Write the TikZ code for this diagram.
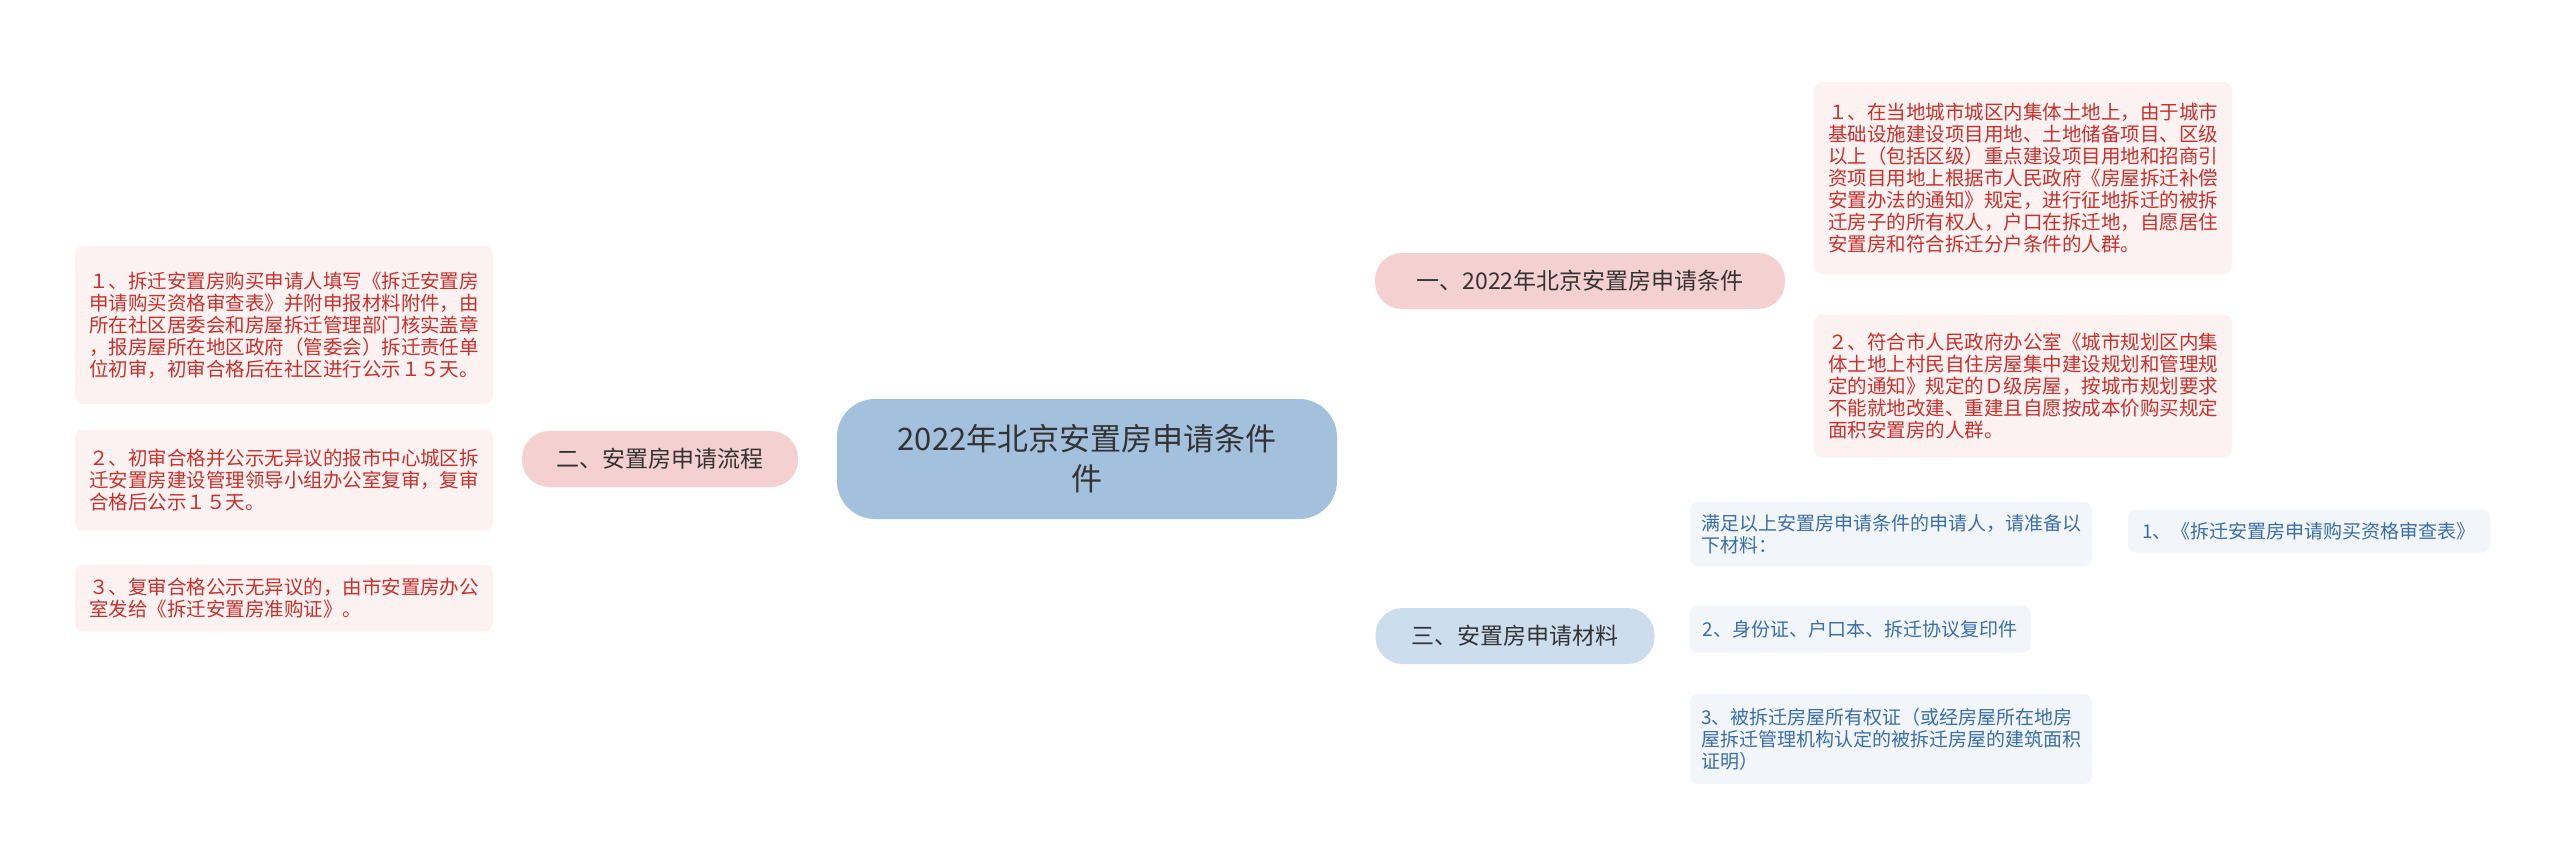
\documentclass[tikz,border=0pt]{standalone}
\usepackage{fontspec}
\setmainfont{Noto Sans CJK SC}
\definecolor{rootc}{HTML}{A3C0DC}
\definecolor{pinkb}{HTML}{F5D0D0}
\definecolor{blueb}{HTML}{CCDDEE}
\definecolor{pinkl}{HTML}{FDF2F2}
\definecolor{bluel}{HTML}{F2F6FB}
\definecolor{redt}{HTML}{C8302C}
\definecolor{bluet}{HTML}{3A6EA8}
\definecolor{pinkline}{HTML}{F0C6C6}
\definecolor{blueline}{HTML}{C6D7E8}
\begin{document}
\begin{tikzpicture}[x=1pt,y=-1pt,
  rootbox/.style={fill=rootc,rounded corners=38pt,minimum width=500pt,minimum height=120pt,align=center,text=black!80,font=\fontsize{31}{40}\selectfont},
  brbox/.style={rounded corners=27pt,minimum height=56pt,inner xsep=22pt,text=black!80,font=\fontsize{23}{28}\selectfont},
  leafr/.style={fill=pinkl,text=redt,rounded corners=8pt,align=left,inner xsep=14pt,font=\fontsize{19.5}{22}\selectfont},
  leafb/.style={fill=bluel,text=bluet,rounded corners=8pt,align=left,inner xsep=10pt,font=\fontsize{19}{22}\selectfont},
  lp/.style={draw=pinkline,line width=3pt,rounded corners=18pt},
  lb/.style={draw=blueline,line width=3pt,rounded corners=18pt}]
\useasboundingbox (0,0) rectangle (2560,863);
\fill[white] (0,0) rectangle (2560,863);

\node[rootbox] (root) at (1087,459) {2022年北京安置房申请条件\\件};
\node[brbox,fill=pinkb,minimum width=410pt] (b1) at (1580,281) {一、2022年北京安置房申请条件};
\node[brbox,fill=pinkb,minimum width=276pt] (b2) at (660,459) {二、安置房申请流程};
\node[brbox,fill=blueb,minimum width=279pt] (b3) at (1515,636) {三、安置房申请材料};

\node[leafr,minimum width=402pt,minimum height=192pt] (l1a) at (2023,178) {１、在当地城市城区内集体土地上，由于城市\\基础设施建设项目用地、土地储备项目、区级\\以上（包括区级）重点建设项目用地和招商引\\资项目用地上根据市人民政府《房屋拆迁补偿\\安置办法的通知》规定，进行征地拆迁的被拆\\迁房子的所有权人，户口在拆迁地，自愿居住\\安置房和符合拆迁分户条件的人群。};
\node[leafr,minimum width=402pt,minimum height=143pt] (l1b) at (2023,386) {２、符合市人民政府办公室《城市规划区内集\\体土地上村民自住房屋集中建设规划和管理规\\定的通知》规定的Ｄ级房屋，按城市规划要求\\不能就地改建、重建且自愿按成本价购买规定\\面积安置房的人群。};

\node[leafr,minimum width=404pt,minimum height=158pt] (l2a) at (284,325) {１、拆迁安置房购买申请人填写《拆迁安置房\\申请购买资格审查表》并附申报材料附件，由\\所在社区居委会和房屋拆迁管理部门核实盖章\\，报房屋所在地区政府（管委会）拆迁责任单\\位初审，初审合格后在社区进行公示１５天。};
\node[leafr,minimum width=404pt,minimum height=100pt] (l2b) at (284,480) {２、初审合格并公示无异议的报市中心城区拆\\迁安置房建设管理领导小组办公室复审，复审\\合格后公示１５天。};
\node[leafr,minimum width=404pt,minimum height=67pt] (l2c) at (284,598) {３、复审合格公示无异议的，由市安置房办公\\室发给《拆迁安置房准购证》。};

\node[leafb,minimum width=402pt,minimum height=64pt] (l3a) at (1891,534) {满足以上安置房申请条件的申请人，请准备以\\下材料：};
\node[leafb,minimum width=362pt,minimum height=43pt] (l3a1) at (2309,531) {1、《拆迁安置房申请购买资格审查表》};
\node[leafb,minimum width=341pt,minimum height=47pt] (l3b) at (1860,629) {2、身份证、户口本、拆迁协议复印件};
\node[leafb,minimum width=402pt,minimum height=90pt] (l3c) at (1891,739) {3、被拆迁房屋所有权证（或经房屋所在地房\\屋拆迁管理机构认定的被拆迁房屋的建筑面积\\证明）};

\begin{scope}[on background layer/.style={}]
\end{scope}
\end{tikzpicture}
\end{document}
